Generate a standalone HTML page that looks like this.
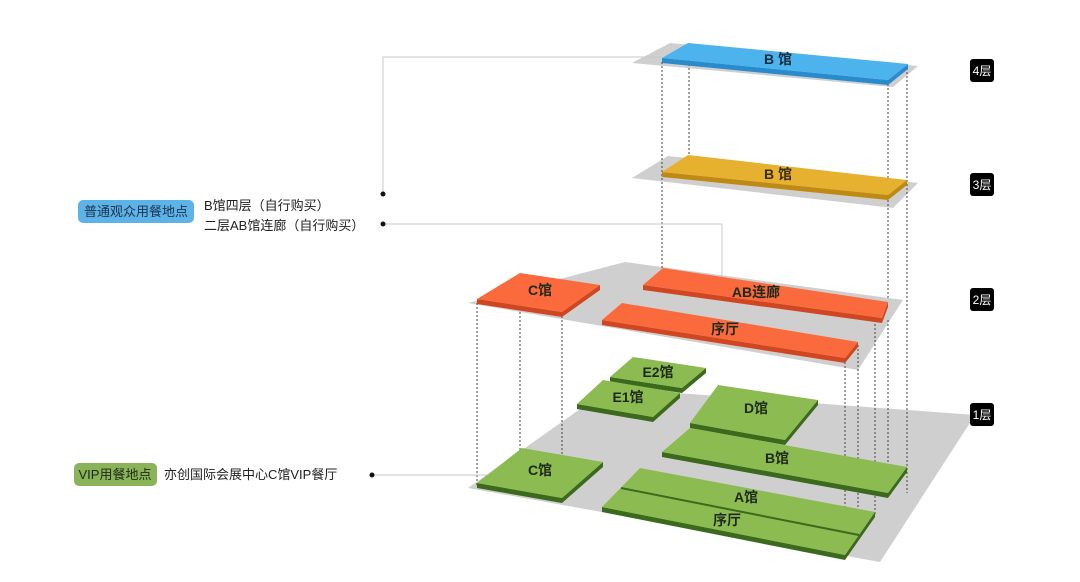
<!DOCTYPE html>
<html><head><meta charset="utf-8"><style>
body{margin:0;background:#fff;width:1080px;height:582px;overflow:hidden;font-family:"Liberation Sans","Noto Sans CJK SC",sans-serif;}
svg{position:absolute;left:0;top:0}
.t{font-family:"Liberation Sans","Noto Sans CJK SC",sans-serif;}
</style></head><body>
<svg width="1080" height="582" viewBox="0 0 1080 582">
<polygon points="632,63 670,43 918,66 893,87" fill="#cfcfcf"/>
<polygon points="632,178 668,156 918,183 893,208" fill="#cfcfcf"/>
<polygon points="468,303 625,262 903,300 858,370" fill="#cfcfcf"/>
<polygon points="468,488 610,388 975,415 880,562" fill="#cfcfcf"/>

<g stroke="#444" stroke-width="1" stroke-dasharray="2,2" fill="none">
<line x1="662" y1="62" x2="662" y2="287"/>
<line x1="689" y1="48" x2="689" y2="158"/>
<line x1="888" y1="84" x2="888" y2="300"/>
<line x1="907" y1="68" x2="907" y2="493"/>
<line x1="477" y1="303" x2="477" y2="485"/>
<line x1="520" y1="300" x2="520" y2="450"/>
<line x1="562" y1="316" x2="562" y2="500"/>
<line x1="845" y1="362" x2="845" y2="557"/>
<line x1="858" y1="345" x2="858" y2="537"/>
<line x1="875" y1="320" x2="875" y2="514"/>
<line x1="888" y1="320" x2="888" y2="496"/>
</g>
<g stroke="#c8c8c8" stroke-width="1" fill="none">
<polyline points="383,194 383,57 662,57"/>
<polyline points="383,224 722,224 722,283"/>
<line x1="372" y1="475" x2="512" y2="475"/>
</g>
<circle cx="383" cy="194" r="2.5" fill="#111"/>
<circle cx="383" cy="224" r="2.5" fill="#111"/>
<circle cx="372" cy="475" r="2.5" fill="#111"/>

<g>
<polygon points="662,58 888,80 888,85 662,63" fill="#2a8bcc"/><polygon points="888,80 908,64 908,69 888,85" fill="#2a8bcc"/>
<polygon points="662,58 688,43 908,64 888,80" fill="#4db3ec"/>

<polygon points="662,172 888,195 888,200 662,177" fill="#bf8a14"/><polygon points="888,195 907,180 907,185 888,200" fill="#bf8a14"/>
<polygon points="662,172 688,155 907,180 888,195" fill="#e6b12e"/>

<polygon points="477,299 562,312 562,317 477,304" fill="#cf4620"/><polygon points="562,312 600,285 600,290 562,317" fill="#cf4620"/>
<polygon points="477,299 520,273 600,285 562,312" fill="#fb6a3c"/>

<polygon points="643,285 882,318 882,323 643,290" fill="#cf4620"/><polygon points="882,318 888,302 888,307 882,323" fill="#cf4620"/>
<polygon points="643,285 663,268 888,302 882,318" fill="#fb6a3c"/>

<polygon points="602,320 845,358 845,363 602,325" fill="#cf4620"/><polygon points="845,358 858,342 858,347 845,363" fill="#cf4620"/>
<polygon points="602,320 622,303 858,342 845,358" fill="#fb6a3c"/>

<polygon points="610,377 682,388 682,393 610,382" fill="#3b6a1c"/><polygon points="682,388 706,368 706,373 682,393" fill="#3b6a1c"/>
<polygon points="610,377 633,357 706,368 682,388" fill="#8cbb52"/>

<polygon points="577,404 653,417 653,422 577,409" fill="#3b6a1c"/><polygon points="653,417 680,393 680,398 653,422" fill="#3b6a1c"/>
<polygon points="577,404 603,380 680,393 653,417" fill="#8cbb52"/>

<polygon points="690,423 785,440 785,445 690,428" fill="#3b6a1c"/><polygon points="785,440 818,400 818,405 785,445" fill="#3b6a1c"/>
<polygon points="690,423 718,385 818,400 785,440" fill="#8cbb52"/>

<polygon points="662,452 888,493 888,498 662,457" fill="#3b6a1c"/><polygon points="888,493 907,467 907,472 888,498" fill="#3b6a1c"/>
<polygon points="662,452 690,428 907,467 888,493" fill="#8cbb52"/>

<polygon points="477,483 562,498 562,503 477,488" fill="#3b6a1c"/><polygon points="562,498 603,462 603,467 562,503" fill="#3b6a1c"/>
<polygon points="477,483 522,448 603,462 562,498" fill="#8cbb52"/>

<polygon points="602,507 845,555 845,560 602,512" fill="#3b6a1c"/><polygon points="845,555 875,512 875,517 845,560" fill="#3b6a1c"/>
<polygon points="602,507 640,468 875,512 845,555" fill="#8cbb52"/>
<line x1="621" y1="488" x2="859" y2="535" stroke="#3b6a1c" stroke-width="2"/>
</g>

<g class="t" font-size="14" font-weight="bold" fill="#1e2a1a" text-anchor="middle">
<text x="778" y="64" fill="#1a2c40">B 馆</text>
<text x="778" y="179" fill="#3a2a10">B 馆</text>
<text x="540" y="295">C馆</text>
<text x="756" y="297">AB连廊</text>
<text x="725" y="334">序厅</text>
<text x="658" y="377">E2馆</text>
<text x="628" y="402">E1馆</text>
<text x="756" y="413">D馆</text>
<text x="777" y="463">B馆</text>
<text x="540" y="475">C馆</text>
<text x="746" y="502">A馆</text>
<text x="727" y="525">序厅</text>
</g>

<g class="t" font-size="12" fill="#fff" text-anchor="middle">
<rect x="970" y="59" width="24" height="23" rx="3" fill="#000"/><text x="982" y="75">4层</text>
<rect x="970" y="173" width="24" height="23" rx="3" fill="#000"/><text x="982" y="189">3层</text>
<rect x="970" y="288" width="24" height="23" rx="3" fill="#000"/><text x="982" y="304">2层</text>
<rect x="970" y="403" width="24" height="23" rx="3" fill="#000"/><text x="982" y="419">1层</text>
</g>

<rect x="78" y="200" width="116" height="23" rx="5" fill="#5db2e6"/>
<text x="136" y="216" class="t" font-size="13" fill="#1c3350" text-anchor="middle">普通观众用餐地点</text>
<text x="204" y="210" class="t" font-size="13" fill="#222">B馆四层（自行购买）</text>
<text x="204" y="230" class="t" font-size="13" fill="#222">二层AB馆连廊（自行购买）</text>

<rect x="74" y="463" width="83" height="23" rx="5" fill="#8ab35a"/>
<text x="115" y="479" class="t" font-size="13" fill="#1e2a14" text-anchor="middle">VIP用餐地点</text>
<text x="164" y="479" class="t" font-size="13" fill="#222">亦创国际会展中心C馆VIP餐厅</text>
</svg>
</body></html>
